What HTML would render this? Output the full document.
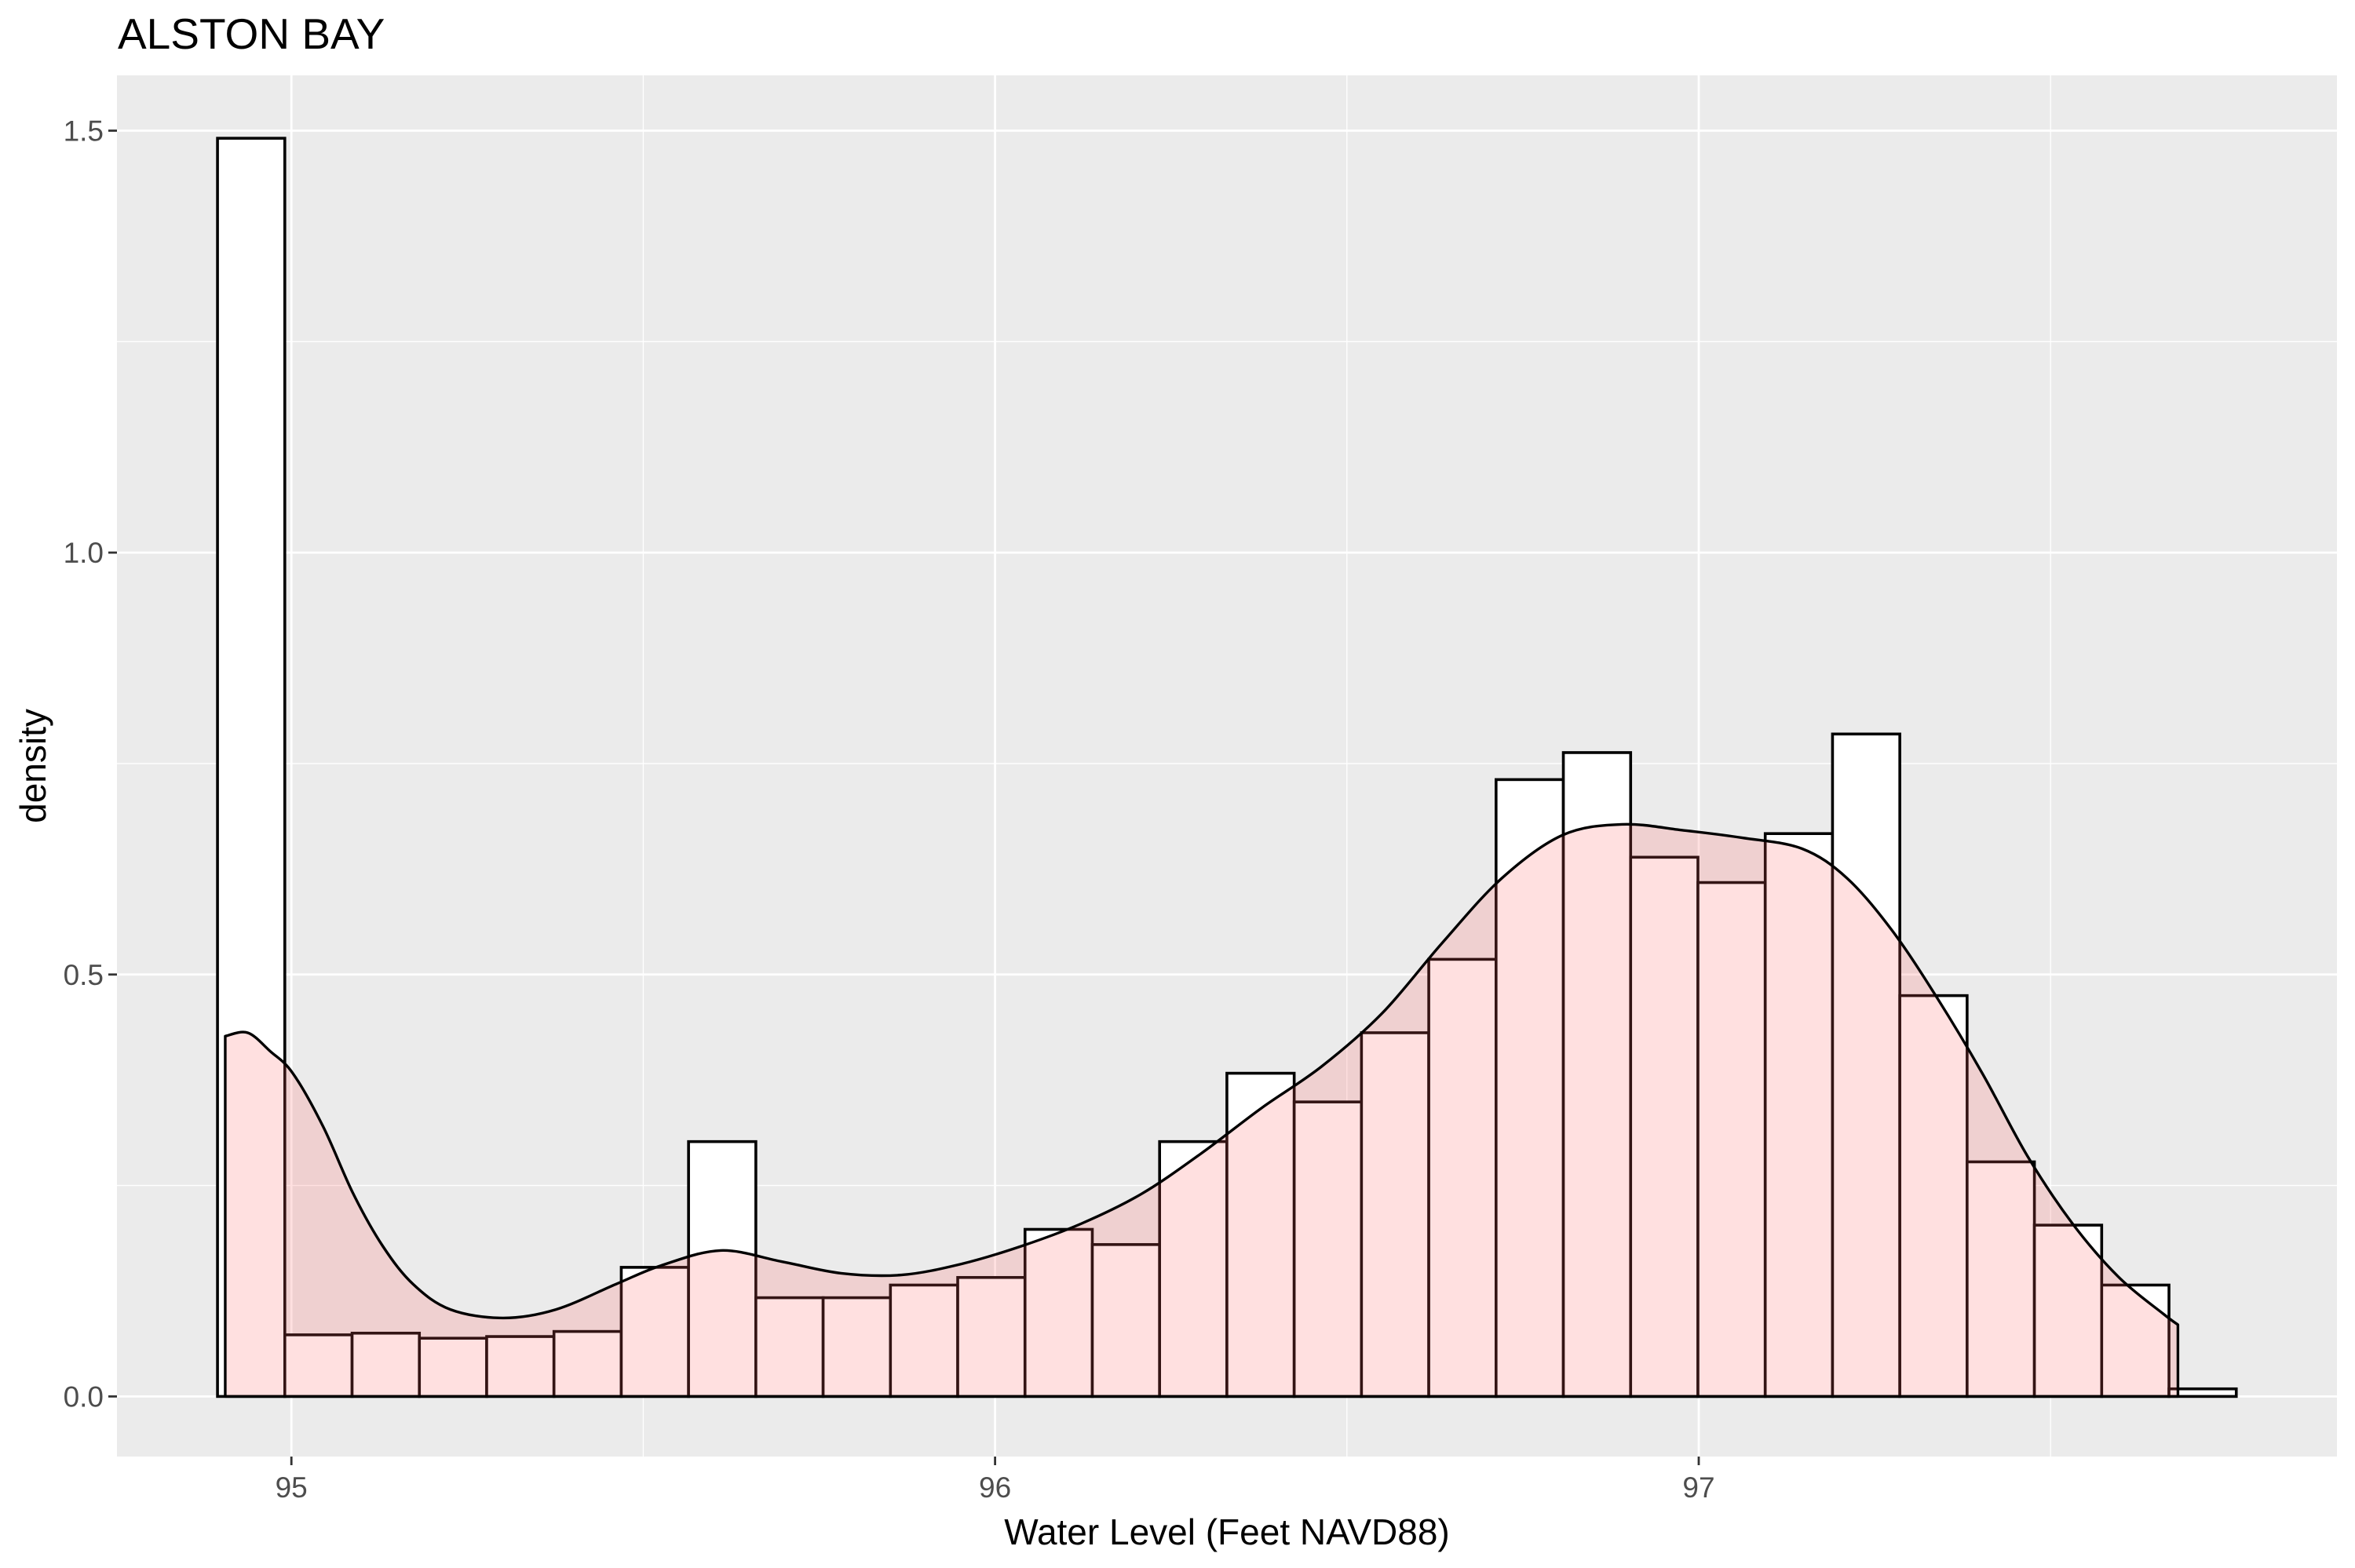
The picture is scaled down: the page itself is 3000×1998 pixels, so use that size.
<!DOCTYPE html>
<html><head><meta charset="utf-8"><style>
html,body{margin:0;padding:0;background:#fff}
svg{display:block}
text{font-family:"Liberation Sans",Arial,sans-serif}
</style></head><body>
<svg id="chart" width="3000" height="1998" viewBox="0 0 3000 1998" xmlns="http://www.w3.org/2000/svg">
<text x="150" y="62" font-size="55" fill="#000">ALSTON BAY</text>
<rect x="149" y="96" width="2828" height="1760" fill="#EBEBEB"/>
<g id="grid"></g>
<g id="bars"></g>
<g id="dens"></g>
<g id="axes"></g>
<text x="1563" y="1968" font-size="46" fill="#000" text-anchor="middle">Water Level (Feet NAVD88)</text>
<text x="0" y="0" font-size="46" fill="#000" text-anchor="middle" transform="translate(58,976) rotate(-90)">density</text>
</svg>
<script>
const binStart = 94.895;
const binWidth = 0.09563;
const binDensity = [1.491,0.073,0.075,0.069,0.071,0.077,0.153,0.302,0.117,0.117,0.132,0.141,0.198,0.180,0.302,0.383,0.349,0.431,0.518,0.731,0.763,0.639,0.609,0.667,0.785,0.475,0.278,0.203,0.132,0.009];
const densX = [94.906,94.938,94.970,95.002,95.045,95.088,95.130,95.173,95.226,95.301,95.376,95.461,95.525,95.610,95.696,95.781,95.867,95.952,96.037,96.123,96.208,96.293,96.379,96.464,96.550,96.635,96.720,96.806,96.891,96.977,97.062,97.147,97.211,97.275,97.339,97.403,97.467,97.531,97.596,97.660,97.681];
const densY = [0.427,0.431,0.409,0.383,0.320,0.240,0.178,0.133,0.103,0.093,0.103,0.133,0.155,0.173,0.160,0.146,0.144,0.157,0.178,0.205,0.240,0.288,0.342,0.391,0.454,0.537,0.614,0.665,0.678,0.671,0.662,0.649,0.614,0.552,0.472,0.383,0.285,0.205,0.142,0.098,0.085];
const xTicks = [95,96,97];
const xMinor = [95.5,96.5,97.5];
const yTicks = [0,0.5,1.0,1.5];
const yTickLabels = ["0.0","0.5","1.0","1.5"];
const yMinor = [0.25,0.75,1.25];

const NS="http://www.w3.org/2000/svg";
const PL=149,PR=2977,PT=96,PB=1856;
function xs(v){return 371.2+(v-95)*896.4;}
function ys(v){return 1779.4-v*1075.27;}
function mk(tag,attrs,parent){const e=document.createElementNS(NS,tag);for(const k in attrs)e.setAttribute(k,attrs[k]);parent.appendChild(e);return e;}
const grid=document.getElementById('grid');
xMinor.forEach(v=>{const l=mk('line',{x1:xs(v),x2:xs(v),y1:PT,y2:PB,stroke:'#fff','stroke-width':1.3},grid);

});
yMinor.forEach(v=>{const l=mk('line',{x1:PL,x2:PR,y1:ys(v),y2:ys(v),stroke:'#fff','stroke-width':1.3},grid);

});
xTicks.forEach(v=>{const l=mk('line',{x1:xs(v),x2:xs(v),y1:PT,y2:PB,stroke:'#fff','stroke-width':2.8},grid);

});
yTicks.forEach(v=>{const l=mk('line',{x1:PL,x2:PR,y1:ys(v),y2:ys(v),stroke:'#fff','stroke-width':2.8},grid);

});
const bars=document.getElementById('bars');
binDensity.forEach((d,i)=>{const x0=xs(binStart+i*binWidth),x1=xs(binStart+(i+1)*binWidth);
const r=mk('rect',{x:x0,y:ys(d),width:x1-x0,height:ys(0)-ys(d),fill:'#fff',stroke:'#000','stroke-width':3.6},bars);

});
const dens=document.getElementById('dens');
const P=densX.map((x,i)=>[xs(x),ys(densY[i])]);
let d='M'+xs(densX[0])+','+ys(0)+' L'+P[0][0]+','+P[0][1];
for(let i=0;i<P.length-1;i++){const p0=P[Math.max(i-1,0)],p1=P[i],p2=P[i+1],p3=P[Math.min(i+2,P.length-1)];
const c1=[p1[0]+(p2[0]-p0[0])/6,p1[1]+(p2[1]-p0[1])/6],c2=[p2[0]-(p3[0]-p1[0])/6,p2[1]-(p3[1]-p1[1])/6];
d+=' C'+c1[0].toFixed(1)+','+c1[1].toFixed(1)+' '+c2[0].toFixed(1)+','+c2[1].toFixed(1)+' '+p2[0].toFixed(1)+','+p2[1].toFixed(1);}
d+=' L'+xs(densX[densX.length-1])+','+ys(0)+' Z';
const p=mk('path',{d:d,fill:'#FF6666','fill-opacity':0.2,stroke:'#000','stroke-width':3.4,'stroke-linejoin':'round'},dens);


const axes=document.getElementById('axes');
xTicks.forEach(v=>{const t=mk('line',{x1:xs(v),x2:xs(v),y1:PB,y2:PB+11,stroke:'#333','stroke-width':2.8},axes);


const tx=mk('text',{x:xs(v),y:PB+52,'font-size':37,fill:'#4D4D4D','text-anchor':'middle'},axes);tx.textContent=v;

});
yTicks.forEach((v,i)=>{const t=mk('line',{x1:PL-11,x2:PL,y1:ys(v),y2:ys(v),stroke:'#333','stroke-width':2.8},axes);


const tx=mk('text',{x:PL-17,y:ys(v)+13,'font-size':37,fill:'#4D4D4D','text-anchor':'end'},axes);tx.textContent=yTickLabels[i];

});
</script>
</body></html>
